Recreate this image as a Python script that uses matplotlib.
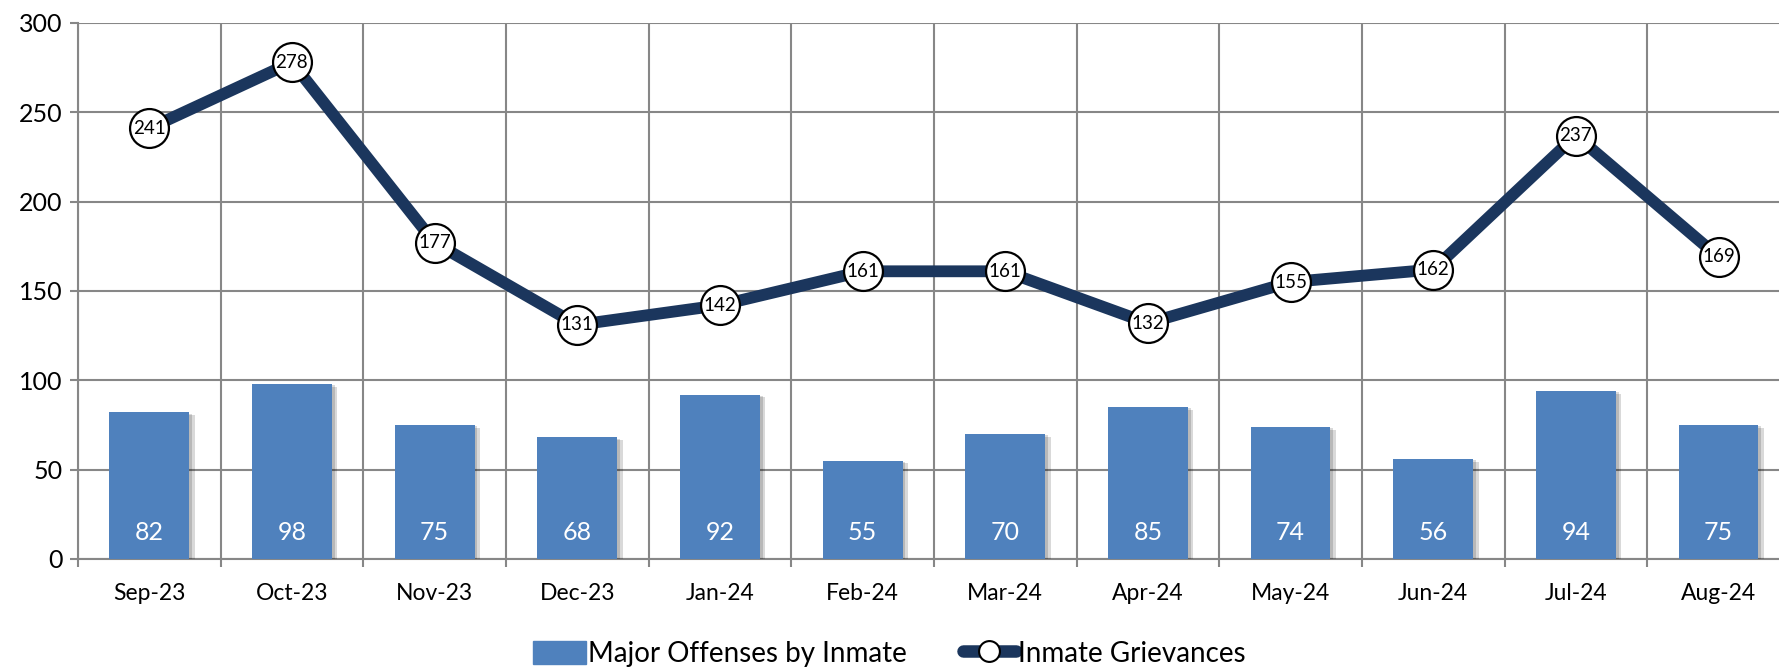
import numpy as np
import matplotlib
matplotlib.use('Agg')
import matplotlib.pyplot as plt
import matplotlib.patheffects as pe
from matplotlib.lines import Line2D
from matplotlib.patches import Patch

plt.rcParams['font.family'] = ['Lato', 'DejaVu Sans']

months = ['Sep-23', 'Oct-23', 'Nov-23', 'Dec-23', 'Jan-24', 'Feb-24',
          'Mar-24', 'Apr-24', 'May-24', 'Jun-24', 'Jul-24', 'Aug-24']
offenses = [82, 98, 75, 68, 92, 55, 70, 85, 74, 56, 94, 75]
grievances = [241, 278, 177, 131, 142, 161, 161, 132, 155, 162, 237, 169]

bar_color = '#4F81BD'
line_color = '#1B365D'
grid_color = '#878787'

fig = plt.figure(figsize=(17.79, 6.67), dpi=100)
ax = fig.add_axes([0.0438, 0.162, 0.9623, 0.8036])

x = np.arange(len(months))

# 柱状图 + 阴影
bars = ax.bar(x, offenses, width=0.56, color=bar_color, zorder=3,
              path_effects=[pe.SimplePatchShadow(offset=(4, -2), shadow_rgbFace='#000000', alpha=0.15),
                            pe.SimplePatchShadow(offset=(2, -1), shadow_rgbFace='#000000', alpha=0.15),
                            pe.Normal()])
for xi, v in zip(x, offenses):
    ax.text(xi, 15, str(v), color='white', fontsize=18, ha='center', va='center', zorder=4)

# 折线
ax.plot(x, grievances, color=line_color, lw=8.5, zorder=5, solid_capstyle='round')
ax.plot(x, grievances, ls='none', marker='o', ms=28, mfc='white', mec='black', mew=1.6, zorder=6)
for xi, v in zip(x, grievances):
    ax.text(xi, v, str(v), fontsize=13.5, ha='center', va='center', zorder=7)

ax.set_xlim(-0.5, 11.5)
ax.set_ylim(0, 300)
ax.set_yticks(range(0, 301, 50))
ax.set_xticks(x)
ax.set_xticklabels(months)
ax.set_xticks(np.arange(-0.5, 12, 1), minor=True)

ax.grid(True, which='major', axis='y', color=grid_color, lw=1.5, zorder=0)
ax.grid(True, which='minor', axis='x', color=grid_color, lw=1.5, zorder=0)
ax.tick_params(axis='x', which='major', length=0, pad=17, labelsize=16.5)
ax.tick_params(axis='x', which='minor', length=6, width=1.5, color=grid_color)
ax.tick_params(axis='y', length=6, width=1.5, color=grid_color, labelsize=18, pad=5)
for s in ['top', 'right']:
    ax.spines[s].set_visible(False)
for s in ['left', 'bottom']:
    ax.spines[s].set_color(grid_color)
    ax.spines[s].set_linewidth(1.5)

handles = [Patch(color=bar_color),
           Line2D([], [], color=line_color, lw=9, marker='o', ms=15, mfc='white', mec='black', mew=1.5,
                  solid_capstyle='round')]
fig.legend(handles, ['Major Offenses by Inmate', 'Inmate Grievances'], loc='center',
           bbox_to_anchor=(0.5, 0.02), ncol=2, frameon=False, fontsize=20,
           handlelength=1.9, handleheight=0.9, handletextpad=0.1, columnspacing=2.0)

fig.savefig('out.png', dpi=100)
